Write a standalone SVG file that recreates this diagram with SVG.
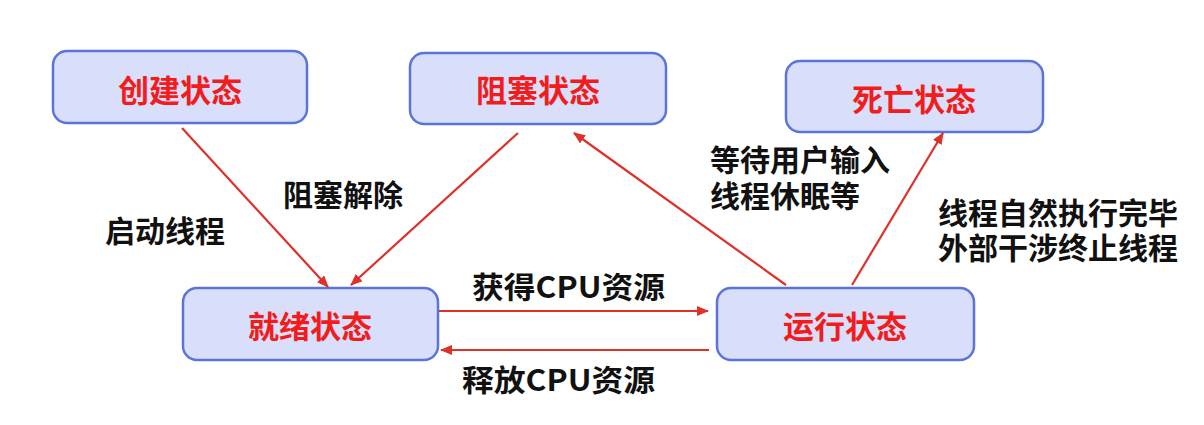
<svg xmlns="http://www.w3.org/2000/svg" width="1204" height="425" viewBox="0 0 1204 425">
<defs>
<marker id="ah" viewBox="0 0 12 10" refX="11" refY="5" markerWidth="12" markerHeight="10" orient="auto" markerUnits="userSpaceOnUse">
<path d="M0,0 L12,5 L0,10 z" fill="#e0302a"/>
</marker>
<style>
.box{fill:#d9dffa;stroke:#5b74d8;stroke-width:2.5}
.nt{font-family:"Noto Sans CJK SC","Liberation Sans",sans-serif;font-weight:bold;font-size:31px;fill:#f21c1c;text-anchor:middle;dominant-baseline:central}
.lt{font-family:"Noto Sans CJK SC","Liberation Sans",sans-serif;font-weight:bold;font-size:30px;fill:#111;dominant-baseline:central}
.c{stroke:#e0302a;stroke-width:2.2;fill:none;marker-end:url(#ah)}
</style>
</defs>
<rect width="1204" height="425" fill="#fff"/>
<g id="n-create"><rect class="box" x="53" y="51" width="254" height="72" rx="14"/><text class="nt" x="180" y="88">创建状态</text></g>
<g id="n-block"><rect class="box" x="410" y="53" width="256" height="71" rx="14"/><text class="nt" x="538" y="88">阻塞状态</text></g>
<g id="n-dead"><rect class="box" x="786" y="61" width="257" height="71" rx="14"/><text class="nt" x="914" y="97">死亡状态</text></g>
<g id="n-ready"><rect class="box" x="183" y="288" width="255" height="72" rx="14"/><text class="nt" x="310" y="324">就绪状态</text></g>
<g id="n-run"><rect class="box" x="717" y="288" width="257" height="72" rx="14"/><text class="nt" x="845" y="324">运行状态</text></g>
<g id="connectors">
<line class="c" x1="182" y1="128" x2="328" y2="287"/>
<line class="c" x1="518" y1="133" x2="351" y2="285"/>
<line class="c" x1="786" y1="285" x2="574" y2="133"/>
<line class="c" x1="852" y1="285" x2="943" y2="133"/>
<line class="c" x1="439" y1="311" x2="708" y2="311"/>
<line class="c" x1="709" y1="350" x2="441" y2="350"/>
</g>
<g id="labels">
<text class="lt" x="105" y="229">启动线程</text>
<text class="lt" x="283" y="193">阻塞解除</text>
<text class="lt" x="472" y="285" textLength="193" lengthAdjust="spacingAndGlyphs">获得CPU资源</text>
<text class="lt" x="462" y="378" textLength="193" lengthAdjust="spacingAndGlyphs">释放CPU资源</text>
<text class="lt" x="710" y="158">等待用户输入</text>
<text class="lt" x="710" y="194">线程休眠等</text>
<text class="lt" x="938" y="211">线程自然执行完毕</text>
<text class="lt" x="938" y="246">外部干涉终止线程</text>
</g>
</svg>
